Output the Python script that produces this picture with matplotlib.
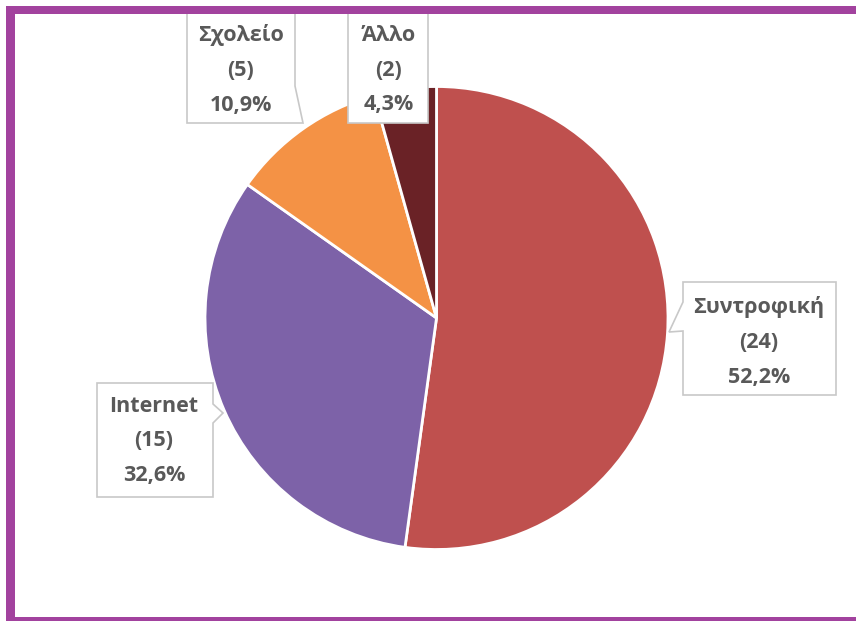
import matplotlib
matplotlib.use("Agg")
import matplotlib.pyplot as plt
from matplotlib.patches import Polygon, Rectangle

categories = ['Συντροφική', 'Internet', 'Σχολείο', 'Άλλο']
counts = [24, 15, 5, 2]
colors = ['#BF504E', '#7D62A8', '#F49245', '#6A2226']

W, H = 856, 621
fig = plt.figure(figsize=(W / 100, H / 100), dpi=100)
ax = fig.add_axes([0, 0, 1, 1])
ax.axis('off')


def P(x, y):
    """pixel coords (y down) -> data coords (y up)"""
    return (x, H - y)


cx, cy = P(436.5, 318)
r = 231.5
ax.pie(counts, colors=colors, startangle=90, counterclock=False,
       center=(cx, cy), radius=r,
       wedgeprops=dict(edgecolor='white', linewidth=2))
ax.set_xlim(0, W)
ax.set_ylim(0, H)
ax.set_aspect('equal')

total = sum(counts)
labels = [f"{c}\n({n})\n{100 * n / total:.1f}%".replace('.', ',')
          for c, n in zip(categories, counts)]

# callout boxes (pixel coordinates, y down)
boxes = [
    # Συντροφική
    [(683, 282), (836, 282), (836, 395), (683, 395), (683, 331), (669, 332), (683, 302)],
    # Internet
    [(97, 383), (213, 383), (213, 404), (223, 413), (213, 423), (213, 497), (97, 497)],
    # Σχολείο
    [(187, 12), (295, 12), (295, 86), (303, 123), (187, 123)],
    # Άλλο
    [(348, 12), (428, 12), (428, 123), (348, 123)],
]
text_pos = [(759, 342), (154, 441), (241, 70), (389, 70)]

for poly, (tx, ty), lab in zip(boxes, text_pos, labels):
    ax.add_patch(Polygon([P(x, y) for x, y in poly], closed=True, facecolor='white',
                         edgecolor='#C8C8C8', linewidth=1.2, zorder=3))
    ax.text(*P(tx, ty), lab, ha='center', va='center', fontsize=15.5,
            fontweight='bold', color='#595959', linespacing=1.85,
            family=['Open Sans', 'DejaVu Sans'], zorder=4)

purple = '#A2429E'
ax.add_patch(Rectangle(P(6, 14), W - 6, 8, facecolor=purple, edgecolor='none', zorder=5))
ax.add_patch(Rectangle(P(6, H), 9, H - 6, facecolor=purple, edgecolor='none', zorder=5))
ax.add_patch(Rectangle(P(6, H), W - 6, 4, facecolor=purple, edgecolor='none', zorder=5))

fig.savefig('out.png', dpi=100)
